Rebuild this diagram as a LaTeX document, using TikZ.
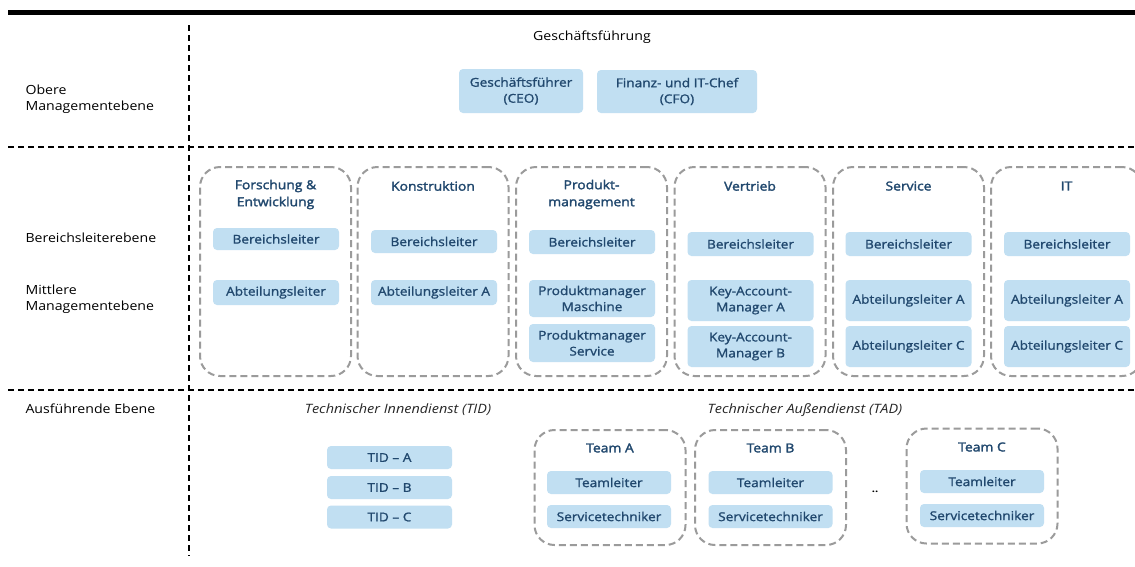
\documentclass[tikz,border=0pt]{standalone}
\usepackage{fontspec}
\setmainfont{Open Sans}[FakeStretch=1.12]
\newfontfamily\medfont{Open Sans}[FakeStretch=1.12,FakeBold=1.3]
\newfontfamily\semifont{Open Sans}[FakeStretch=1.12,FakeBold=2.2]
\begin{document}
\definecolor{boxblue}{RGB}{193,223,242}
\definecolor{navy}{RGB}{33,72,110}
\definecolor{groupgray}{RGB}{155,155,155}
\begin{tikzpicture}[x=1pt,y=-1pt,
  lvl/.style={anchor=west,align=left,text=black,font=\fontsize{12.6}{16}\selectfont},
  sep/.style={black,line width=1.1pt,dash pattern=on 6pt off 4pt},
  role/.style={fill=boxblue,rounded corners=4pt,inner sep=0pt,align=center,text=navy,
    font=\medfont\fontsize{12.2}{16}\selectfont,minimum width=126pt},
  group/.style={draw=groupgray,line width=2pt,dash pattern=on 7pt off 4pt,rounded corners=20pt,
    inner sep=0pt,minimum width=151pt},
  dept/.style={group,minimum height=209pt},
  team/.style={group,minimum height=115pt},
  head/.style={text=navy,align=center,font=\semifont\fontsize{12.4}{17}\selectfont},
  sub/.style={text=black!85,font=\itshape\fontsize{12.9}{14}\selectfont}]
\useasboundingbox (0,0) rectangle (1135,566);
\fill[white] (0,0) rectangle (1135,566);

% frame: top rule, level separators and label column
\fill[black] (8,10) rectangle (1135,15);
\draw[sep] (8,147) -- (1135,147);
\draw[sep] (8,390) -- (1135,390);
\draw[sep] (189,25) -- (189,556);

% level labels
\node[lvl] (lvlTop) at (22,99) {Obere\\Managementebene};
\node[lvl] (lvlBL) at (22,238) {Bereichsleiterebene};
\node[lvl] (lvlMid) at (22,299) {Mittlere\\Managementebene};
\node[lvl] (lvlExec) at (22,409) {Ausführende Ebene};

% management board
\node[font=\fontsize{12.6}{16}\selectfont] (gf) at (592,37) {Geschäftsführung};
\node[role,minimum width=124pt,minimum height=44pt] (ceo) at (521,91) {Geschäftsführer\\(CEO)};
\node[role,minimum width=160pt,minimum height=43pt] (cfo) at (677,91.5) {Finanz- und IT-Chef\\(CFO)};

% divisions
\node[dept] (gFE) at (275.5,271.5) {};
\node[dept] (gKO) at (433,271.5) {};
\node[dept] (gPM) at (591.5,271.5) {};
\node[dept] (gVT) at (750,271.5) {};
\node[dept] (gSV) at (908.5,271.5) {};
\node[dept] (gIT) at (1066.5,271.5) {};

\node[head] (hFE) at (275.5,194.5) {Forschung \&\\Entwicklung};
\node[head] (hKO) at (433,186) {Konstruktion};
\node[head] (hPM) at (591.5,194.5) {Produkt-\\management};
\node[head] (hVT) at (750,186) {Vertrieb};
\node[head] (hSV) at (908.5,186) {Service};
\node[head] (hIT) at (1066.5,186) {IT};

% Forschung & Entwicklung
\node[role,minimum height=22pt] (feBL) at (276,239) {Bereichsleiter};
\node[role,minimum height=25pt] (feAL) at (276,292.5) {Abteilungsleiter};
% Konstruktion
\node[role,minimum height=23pt] (koBL) at (434,241.5) {Bereichsleiter};
\node[role,minimum height=25pt] (koAL) at (434,292.5) {Abteilungsleiter A};
% Produktmanagement
\node[role,minimum height=24pt] (pmBL) at (592,242) {Bereichsleiter};
\node[role,minimum height=37pt] (pmM) at (592,298.5) {Produktmanager\\Maschine};
\node[role,minimum height=38pt] (pmS) at (592,343) {Produktmanager\\Service};
% Vertrieb
\node[role,minimum height=24pt] (vtBL) at (750.5,244) {Bereichsleiter};
\node[role,minimum height=41pt] (vtA) at (750.5,300.5) {Key-Account-\\Manager A};
\node[role,minimum height=41pt] (vtB) at (750.5,346.5) {Key-Account-\\Manager B};
% Service
\node[role,minimum height=24pt] (svBL) at (908.5,244) {Bereichsleiter};
\node[role,minimum height=41pt] (svA) at (908.5,300.5) {Abteilungsleiter A};
\node[role,minimum height=41pt] (svC) at (908.5,346.5) {Abteilungsleiter C};
% IT
\node[role,minimum height=24pt] (itBL) at (1067,244) {Bereichsleiter};
\node[role,minimum height=41pt] (itA) at (1067,300.5) {Abteilungsleiter A};
\node[role,minimum height=41pt] (itC) at (1067,346.5) {Abteilungsleiter C};

% executive level
\node[sub] (tid) at (398,410) {Technischer Innendienst (TID)};
\node[sub] (tad) at (805,410) {Technischer Außendienst (TAD)};

\node[role,minimum width=125pt,minimum height=23pt] (tidA) at (389.5,457.5) {TID – A};
\node[role,minimum width=125pt,minimum height=23pt] (tidB) at (389.5,487.5) {TID – B};
\node[role,minimum width=125pt,minimum height=23pt] (tidC) at (389.5,517) {TID – C};

\node[team] (tmA) at (610,487.5) {};
\node[team] (tmB) at (770.5,487.5) {};
\node[team] (tmC) at (982,486) {};

\node[head,font=\semifont\fontsize{12.4}{16}\selectfont] (hA) at (610,448) {Team A};
\node[head,font=\semifont\fontsize{12.4}{16}\selectfont] (hB) at (770.5,448) {Team B};
\node[head,font=\semifont\fontsize{12.4}{16}\selectfont] (hC) at (982,447) {Team C};

\node[role,minimum width=124pt,minimum height=23pt] (aTL) at (609,482.5) {Teamleiter};
\node[role,minimum width=124pt,minimum height=23pt] (aST) at (609,516.5) {Servicetechniker};
\node[role,minimum width=124pt,minimum height=23pt] (bTL) at (770.5,482.5) {Teamleiter};
\node[role,minimum width=124pt,minimum height=23pt] (bST) at (770.5,516.5) {Servicetechniker};
\node[role,minimum width=124pt,minimum height=23pt] (cTL) at (982,481.5) {Teamleiter};
\node[role,minimum width=124pt,minimum height=23pt] (cST) at (982,515.5) {Servicetechniker};

\node[font=\bfseries\fontsize{10}{12}\selectfont,inner sep=0pt] (more) at (875,492) {..};
\end{tikzpicture}
\end{document}
